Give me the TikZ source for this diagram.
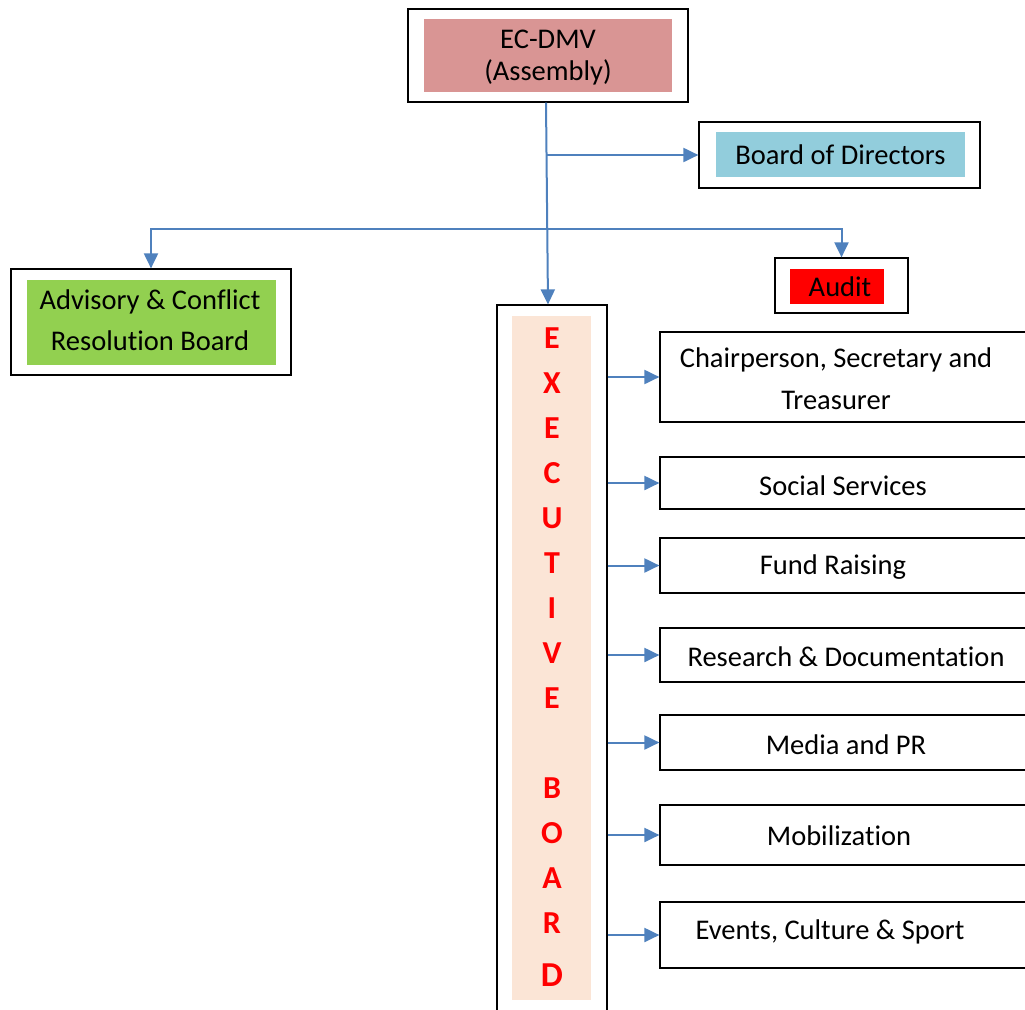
\documentclass[tikz,border=0pt]{standalone}
\usepackage{fontspec}
\setmainfont[Ligatures={NoCommon}]{Carlito}
\usetikzlibrary{arrows.meta, positioning}
\definecolor{cpink}{HTML}{D99594}
\definecolor{cblue}{HTML}{92CDDC}
\definecolor{cgreen}{HTML}{92D050}
\definecolor{cred}{HTML}{FF0000}
\definecolor{cpeach}{HTML}{FBE5D6}
\definecolor{carrow}{HTML}{4F81BD}
\tikzset{
  frame/.style 2 args={
    draw=black, line width=1.2pt,
    minimum width=#1, minimum height=#2,
    inner sep=0pt,
  },
  inbox/.style n args={3}{
    fill=#1, minimum width=#2, minimum height=#3,
    inner sep=0pt, align=center,
    font=\fontsize{28.5}{41}\selectfont,
  },
  unit/.style={
    draw=black, line width=1.2pt,
    minimum width=370, minimum height=#1,
    inner sep=0pt,
  },
  utext/.style={
    inner sep=0pt, align=center,
    font=\fontsize{28.5}{42}\selectfont,
  },
  letters/.style={
    text=cred, align=center, inner sep=0pt,
    font=\fontsize{32}{45}\selectfont\bfseries,
  },
  arr/.style={
    -{Triangle[length=15pt,width=14pt]},
    line width=2pt, color=carrow,
  },
}

\begin{document}
\begin{tikzpicture}[x=1pt, y=-1pt]
\useasboundingbox (0,0) rectangle (1025,1009);

%% ── TOP ───────────────────────────────────────────────────
\node[frame={280}{93}] (ecdmv) at (548,55.5) {};
\node[inbox={cpink}{248}{73}] (ecdmvin) at (548,55.5) {};
\node[utext, font=\fontsize{28.5}{32}\selectfont] (ecdmvtxt) at (548,58)
  {EC-DMV\\(Assembly)};

\node[frame={281}{66}] (board) at (839.5,155) {};
\node[inbox={cblue}{249}{45}] (boardin) at (840.5,154.5) {Board of Directors};

%% ── SIDE BOARDS ───────────────────────────────────────────
\node[frame={280}{106}] (advisory) at (151,322) {};
\node[inbox={cgreen}{249}{85}] (advisoryin) at (151.5,322.5) {};
\node[utext, font=\fontsize{28.5}{41}\selectfont] (advisorytxt) at (150,320)
  {Advisory \& Conflict\\Resolution Board};

\node[frame={133}{55}] (audit) at (841.5,285.5) {};
\node[inbox={cred}{94}{35}] (auditin) at (837,286.5) {};
\node[utext] (audittxt) at (840,287) {Audit};

%% ── EXECUTIVE BOARD ───────────────────────────────────────
\node[frame={110}{710}] (exec) at (552,660) {};
\node[fill=cpeach, minimum width=79, minimum height=684, inner sep=0pt]
  (execin) at (551.5,658) {};
\node[letters, anchor=north] (execword) at (552,328)
  {E\\X\\E\\C\\U\\T\\I\\V\\E\\[45pt]B\\O\\A\\R\\[8pt]%
   {\fontsize{35}{45}\selectfont D}};

%% ── COMMITTEES ────────────────────────────────────────────
\node[unit=90] (chair)    at (845,377)   {};
\node[unit=52] (social)   at (845,483)   {};
\node[unit=55] (fund)     at (845,565.5) {};
\node[unit=54] (research) at (845,655)   {};
\node[unit=55] (media)    at (845,742.5) {};
\node[unit=60] (mobil)    at (845,835)   {};
\node[unit=66] (events)   at (845,935)   {};

\node[utext] (chairtxt)    at (836,379) {Chairperson, Secretary and\\Treasurer};
\node[utext] (socialtxt)   at (843,486) {Social Services};
\node[utext] (fundtxt)     at (833,567) {Fund Raising};
\node[utext] (researchtxt) at (846,657) {Research \& Documentation};
\node[utext] (mediatxt)    at (846,745) {Media and PR};
\node[utext] (mobiltxt)    at (839,836) {Mobilization};
\node[utext] (eventstxt)   at (830,932) {Events, Culture \& Sport};

%% ── Arrows ────────────────────────────────────────────────
\coordinate (split1) at (547,155);
\coordinate (split2) at (548,229);
\draw[arr] ([xshift=-2pt]ecdmv.south) -- ([xshift=-4pt]exec.north);
\draw[arr] (split1) -- (board.west);
\draw[arr] (split2) -| (advisory.north);
\draw[arr] (split2) -| (audit.north);

\draw[arr] (exec.east |- chair)    -- (chair.west);
\draw[arr] (exec.east |- social)   -- (social.west);
\draw[arr] (exec.east |- fund)     -- (fund.west);
\draw[arr] (exec.east |- research) -- (research.west);
\draw[arr] (exec.east |- media)    -- (media.west);
\draw[arr] (exec.east |- mobil)    -- (mobil.west);
\draw[arr] (exec.east |- events)   -- (events.west);

\end{tikzpicture}
\end{document}
